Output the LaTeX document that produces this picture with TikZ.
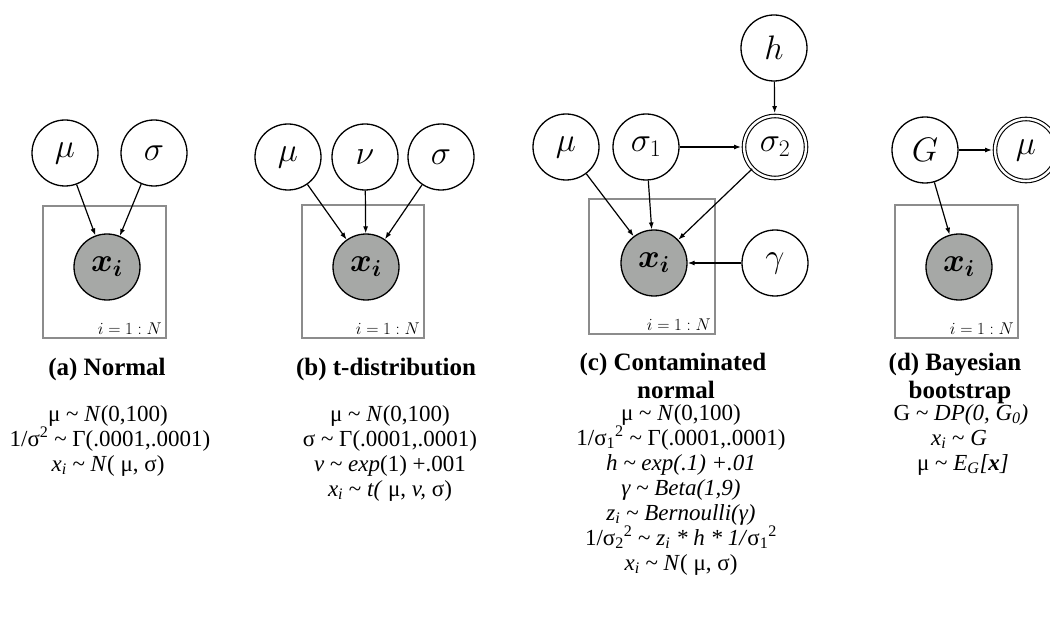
\RequirePackage{fix-cm}
\documentclass[tikz,border=0pt]{standalone}
\usepackage{amsmath,amsbsy}
\usepackage{fontspec}
\setmainfont{Liberation Serif}
\usetikzlibrary{arrows.meta}
\definecolor{obsfill}{RGB}{166,168,166}
\definecolor{plategray}{RGB}{140,140,140}
\tikzset{
  var/.style={circle, draw=black, line width=1.3pt, minimum size=66pt, inner sep=0pt, fill=white, font=\fontsize{34}{36}\selectfont},
  obs/.style={var, fill=obsfill, font=\fontsize{33}{36}\selectfont},
  det/.style={var, double=white, double distance=2.4pt, line width=1.1pt, minimum size=62pt},
  plate/.style={draw=plategray, line width=1.8pt},
  platelbl/.style={anchor=south east, inner sep=1pt, font=\fontsize{17}{18}\selectfont},
  edge/.style={-{Latex[length=7pt,width=5pt]}, line width=1.2pt},
  eq/.style={anchor=base, inner sep=0pt, font=\fontsize{23}{25}\selectfont},
  ttl/.style={anchor=base, inner sep=0pt, font=\fontsize{25}{28}\selectfont\bfseries}
}
\newcommand{\tl}{\textasciitilde{}}
\begin{document}
\begin{tikzpicture}[x=1pt,y=-1pt]
\useasboundingbox (0,0) rectangle (1050,631);
% ---------- (a) ----------
\draw[plate] (43,206) rectangle (166,338);
\node[platelbl] (la) at (163,336) {$i=1:N$};
\node[var] (mua) at (65,153) {$\mu$};
\node[var] (siga) at (154,153) {$\sigma$};
\node[obs] (xa) at (107,267) {$\boldsymbol{x_i}$};
\draw[edge] (mua) -- (xa);
\draw[edge] (siga) -- (xa);
% ---------- (b) ----------
\draw[plate] (302,205) rectangle (424,338);
\node[platelbl] (lb) at (421,336) {$i=1:N$};
\node[var] (mub) at (288,157) {$\mu$};
\node[var] (nub) at (365,157) {$\nu$};
\node[var] (sigb) at (441,157) {$\sigma$};
\node[obs] (xb) at (366,267) {$\boldsymbol{x_i}$};
\draw[edge] (mub) -- (xb);
\draw[edge] (nub) -- (xb);
\draw[edge] (sigb) -- (xb);
% ---------- (c) ----------
\draw[plate] (589,199) rectangle (715,334);
\node[platelbl] (lc) at (712,332) {$i=1:N$};
\node[var] (hc) at (774,48) {$h$};
\node[var] (muc) at (566,147) {$\mu$};
\node[var] (s1c) at (646,147) {$\sigma_1$};
\node[det] (s2c) at (775,147) {$\sigma_2$};
\node[obs] (xc) at (654,263) {$\boldsymbol{x_i}$};
\node[var] (gc) at (775,263) {$\gamma$};
\draw[edge] (muc) -- (xc);
\draw[edge] (s1c) -- (xc);
\draw[edge] (s2c) -- (xc);
\draw[edge, shorten >=2.4pt] (s1c) -- (s2c);
\draw[edge, shorten >=2.4pt] (hc) -- (s2c);
\draw[edge] (gc) -- (xc);
% ---------- (d) ----------
\draw[plate] (895,205) rectangle (1018,338);
\node[platelbl] (ld) at (1015,336) {$i=1:N$};
\node[var] (gd) at (925,150) {$G$};
\node[det] (mud) at (1026,150) {$\mu$};
\node[obs] (xd) at (959,267) {$\boldsymbol{x_i}$};
\draw[edge] (gd) -- (xd);
\draw[edge, shorten >=2.4pt] (gd) -- (mud);
% ---------- captions ----------
\node[ttl] (ta) at (107,375) {(a) Normal};
\node[eq] (a1) at (108,421) {μ \tl{} \textit{N}(0,100)};
\node[eq] (a2) at (110,446) {1/σ\textsuperscript{2} \tl{} Γ(.0001,.0001)};
\node[eq] (a3) at (108,471) {\textit{x\textsubscript{i}} \tl{} \textit{N}( μ, σ)};

\node[ttl] (tb) at (386,375) {(b) t-distribution};
\node[eq] (b1) at (390,421) {μ \tl{} \textit{N}(0,100)};
\node[eq] (b2) at (390,446) {σ \tl{} Γ(.0001,.0001)};
\node[eq] (b3) at (390,471) {\textit{v} \tl{} \textit{exp}(1) +.001};
\node[eq] (b4) at (390,496) {\textit{x\textsubscript{i}} \tl{} \textit{t(} μ, \textit{v,} σ)};

\node[ttl] (tc1) at (673,370) {(c) Contaminated};
\node[ttl] (tc2) at (676,398) {normal};
\node[eq] (c1) at (681,420) {μ \tl{} \textit{N}(0,100)};
\node[eq] (c2) at (681,445) {1/σ\textsubscript{1}\textsuperscript{2} \tl{} Γ(.0001,.0001)};
\node[eq] (c3) at (681,470) {\textit{h \tl{} exp(.1) +.01}};
\node[eq] (c4) at (681,495) {\textit{γ \tl{} Beta(1,9)}};
\node[eq] (c5) at (681,520) {\textit{z\textsubscript{i} \tl{} Bernoulli(γ)}};
\node[eq] (c6) at (681,545) {1/σ\textsubscript{2}\textsuperscript{2} \tl{} \textit{z\textsubscript{i} * h * 1/}σ\textsubscript{1}\textsuperscript{2}};
\node[eq] (c7) at (681,570) {\textit{x\textsubscript{i}} \tl{} \textit{N}( μ, σ)};

\node[ttl] (td1) at (955,370) {(d) Bayesian};
\node[ttl] (td2) at (960,398) {bootstrap};
\node[eq] (d1) at (961,420) {G \tl{} \textit{DP(0, G\textsubscript{0})}};
\node[eq] (d2) at (959,445) {\textit{x\textsubscript{i}} \tl{} \textit{G}};
\node[eq] (d3) at (963,470) {μ \tl{} \textit{E\textsubscript{G}[\textbf{x}]}};
\end{tikzpicture}
\end{document}
